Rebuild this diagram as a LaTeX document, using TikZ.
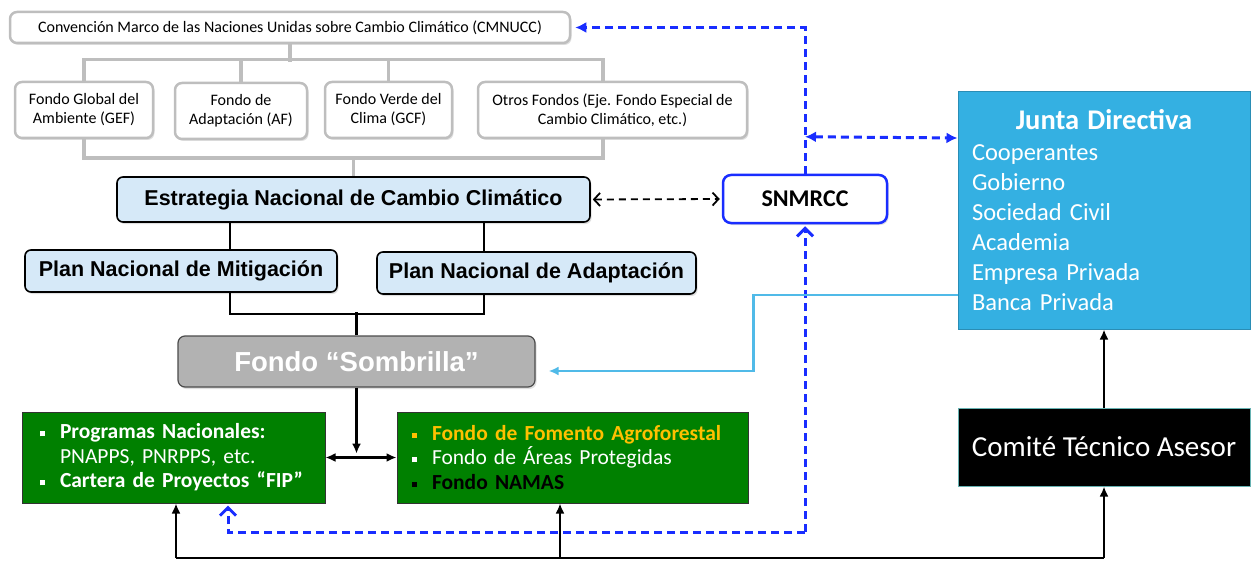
\documentclass[tikz,border=0pt]{standalone}
\usepackage{fontspec}
\setmainfont{Carlito}
\newfontfamily\arialfont{Liberation Sans}
\usetikzlibrary{calc,positioning,shadows,arrows.meta}
\definecolor{topgray}{RGB}{190,190,190}
\definecolor{paleblue}{RGB}{214,233,248}
\definecolor{sombgray}{RGB}{178,178,178}
\definecolor{fundgreen}{RGB}{0,128,0}
\definecolor{gold}{RGB}{255,192,0}
\definecolor{juntablue}{RGB}{52,176,226}
\definecolor{dashblue}{RGB}{25,45,255}
\definecolor{linkblue}{RGB}{80,186,232}
\newcommand{\bul}[1]{\makebox[20pt][l]{\textcolor{#1}{\rule[0.25ex]{5pt}{5pt}}}}

\begin{document}
\begin{tikzpicture}[x=1pt,y=-1pt,
    topbox/.style={draw=topgray, line width=2.5pt, rounded corners=7pt, fill=white,
      drop shadow={shadow xshift=1.5pt, shadow yshift=-2pt, fill=black!25},
      align=center, inner sep=0pt, font=\fontsize{16}{19}\selectfont},
    grayline/.style={draw=topgray, line width=3.5pt},
    bluebox/.style={draw=black, line width=1.6pt, rounded corners=6pt, fill=paleblue,
      drop shadow={shadow xshift=1.5pt, shadow yshift=-2pt, fill=black!25},
      inner sep=0pt, font=\arialfont\bfseries\fontsize{21.5}{25}\selectfont},
    sombox/.style={draw=black!70, line width=1.2pt, rounded corners=7pt, fill=sombgray,
      drop shadow={shadow xshift=1.5pt, shadow yshift=-2pt, fill=black!25},
      inner sep=0pt, text=white, font=\arialfont\bfseries\fontsize{27.5}{30}\selectfont},
    greenbox/.style={draw=black!80, line width=1pt, fill=fundgreen, text=white, align=left,
      font=\fontsize{21.5}{24.5}\selectfont},
    snmbox/.style={draw=dashblue, line width=2.5pt, rounded corners=8pt, fill=white,
      drop shadow={shadow xshift=1.5pt, shadow yshift=-2pt, fill=black!25},
      inner sep=0pt, font=\bfseries\fontsize{24}{28}\selectfont},
    juntabox/.style={draw=juntablue!80!black, line width=1pt, fill=juntablue, text=white,
      align=left, font=\fontsize{24.5}{30}\selectfont},
    comitebox/.style={draw=teal!60, line width=1pt, fill=black, text=white, inner sep=0pt,
      font=\fontsize{29}{32}\selectfont},
    blk/.style={draw=black, line width=2.2pt},
    tip/.style={-{Latex[length=10pt,width=9pt]}},
    bluedash/.style={draw=dashblue, line width=3pt, dash pattern=on 8pt off 5pt},
    lblue/.style={draw=linkblue, line width=2.5pt}]
  \useasboundingbox (0,0) rectangle (1255,564);

  % fondos internacionales
  \node[topbox, minimum width=560pt, minimum height=31pt] (cmnucc) at (290,27.5)
    {Convención Marco de las Naciones Unidas sobre Cambio Climático (CMNUCC)};
  \node[topbox, minimum width=138pt, minimum height=56pt] (gef) at (84,110) {Fondo Global del\\Ambiente (GEF)};
  \node[topbox, minimum width=132pt, minimum height=56pt] (af) at (241,111) {Fondo de\\Adaptación (AF)};
  \node[topbox, minimum width=127pt, minimum height=56pt] (gcf) at (388.5,110) {Fondo Verde del\\Clima (GCF)};
  \node[topbox, minimum width=269pt, minimum height=56pt] (otros) at (612.5,110)
    {Otros Fondos (Eje. Fondo Especial de\\Cambio Climático, etc.)};

  \draw[grayline] (cmnucc.south) -- ++(0,18);
  \draw[grayline] (gef.north) -- ++(0,-21) -| ($(otros.north)+(-9.5,0)$);
  \draw[grayline] (af.north) -- ++(0,-21);
  \draw[grayline] (gcf.north) -- ++(0,-21);
  \draw[grayline] (gef.south) -- ++(0,19) -| ($(otros.south)+(-9.5,0)$);

  % estrategia y planes
  \node[bluebox, minimum width=473pt, minimum height=45pt] (encc) at (353.5,199.5) {Estrategia Nacional de Cambio Climático};
  \node[bluebox, minimum width=312pt, minimum height=42pt] (mitig) at (181,271) {Plan Nacional de Mitigación};
  \node[bluebox, minimum width=319pt, minimum height=42pt] (adapt) at (536.5,273) {Plan Nacional de Adaptación};
  \node[sombox, minimum width=357pt, minimum height=51pt] (somb) at (356.5,361.5) {Fondo “Sombrilla”};
  \draw[grayline] (encc.north) -- ++(0,-20);

  \draw[blk] ($(encc.south)+(-123.5,0)$) -- ($(mitig.north)+(49,0)$);
  \draw[blk] ($(encc.south)+(130.5,0)$) -- ($(adapt.north)+(-52.5,0)$);
  \draw[blk] ($(mitig.south)+(49,0)$) |- ($(adapt.south)+(-52.5,19)$) -- ($(adapt.south)+(-52.5,0)$);
  \draw[blk] (somb.north) -- ++(0,-23);

  % fondos nacionales
  \node[greenbox, text width=267pt, inner xsep=18pt, minimum height=91pt] (prog) at (173.5,457.5)
    {\bul{white}\textbf{Programas Nacionales:}\\
     \hspace*{20pt}PNAPPS, PNRPPS, etc.\\
     \bul{white}\textbf{Cartera de Proyectos “FIP”}};
  \node[greenbox, text width=321pt, inner xsep=15pt, minimum height=91pt] (fondos) at (572.5,457.5)
    {\bul{gold}\textcolor{gold}{\textbf{Fondo de Fomento Agroforestal}}\\
     \bul{white}Fondo de Áreas Protegidas\\
     \bul{black}\textcolor{black}{\textbf{Fondo NAMAS}}};
  \draw[blk,tip] (somb.south) -- ++(0,66);
  \draw[blk,{Latex[length=10pt,width=9pt]}-{Latex[length=10pt,width=9pt]}] (prog.east) -- (fondos.west);

  % sistema y gobernanza
  \node[snmbox, minimum width=164pt, minimum height=48pt] (snm) at (805,199) {SNMRCC};
  \draw[line width=1.8pt, dash pattern=on 7pt off 5pt, {Straight Barb[length=6pt,width=13pt]}-{Straight Barb[length=6pt,width=13pt]},
    shorten <=2pt, shorten >=2pt] (encc.east) -- (snm.west);

  \node[juntabox, minimum height=237pt, text width=264pt, inner xsep=14pt] (junta) at (1104,210.5)
    {\makebox[264pt]{\bfseries\fontsize{28.5}{32}\selectfont Junta Directiva}\\[1pt]
     Cooperantes\\ Gobierno\\ Sociedad Civil\\ Academia\\ Empresa Privada\\ Banca Privada};
  \node[comitebox, minimum width=292pt, minimum height=78pt] (comite) at (1104,447) {Comité Técnico Asesor};
  \draw[blk,tip] (comite.north) -- (junta.south);

  \draw[bluedash,-{Latex[length=11pt,width=11pt]}, shorten >=4pt] (snm.north) |- (cmnucc.east);
  \draw[bluedash,{Latex[length=11pt,width=11pt]}-{Latex[length=11pt,width=11pt]}]
    ($(snm.north)+(0,-37)$) -- ($(junta.west)+(0,-72.5)$);
  \coordinate (bcorner) at (805,532);
  \draw[bluedash,-{Straight Barb[length=8pt,width=16pt]}, shorten >=2pt] (bcorner) -- (snm.south);
  \draw[bluedash,-{Straight Barb[length=8pt,width=16pt]}, shorten >=2pt] (bcorner) -| ($(prog.south)+(54.5,0)$);

  \draw[lblue,-{Latex[length=10pt,width=9pt]}, shorten >=13pt]
    ($(junta.west)+(0,84.5)$) -| ($(somb.east)+(218,9.5)$) -- ($(somb.east)+(0,9.5)$);

  \coordinate (bl) at (176,558);
  \draw[blk,tip] (bl) -- (bl |- prog.south);
  \draw[blk] (bl) -- (bl -| comite.south);
  \draw[blk,tip] (bl -| comite.south) -- (comite.south);
  \draw[blk,tip] ($(bl)+(384,0)$) -- ($(fondos.south)+(-12.5,0)$);
\end{tikzpicture}
\end{document}
